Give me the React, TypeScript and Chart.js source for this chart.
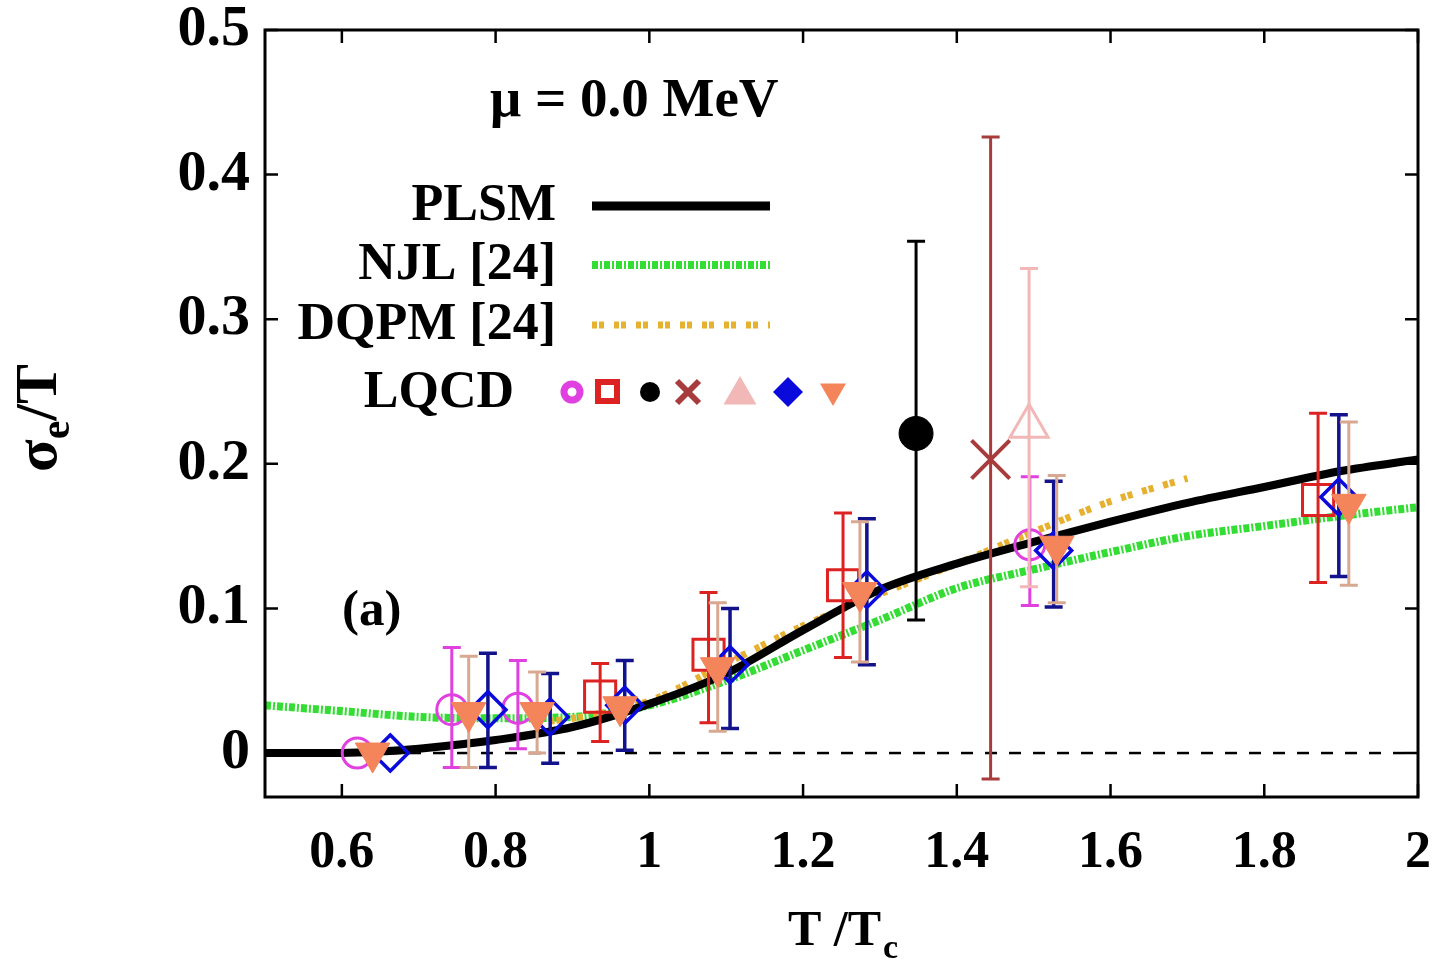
import React, { useEffect, useRef } from 'react';
import { Chart, registerables } from 'chart.js';

Chart.register(...registerables);

// ---------- data ----------
const xTickValues = [0.6, 0.8, 1.0, 1.2, 1.4, 1.6, 1.8, 2.0];
const yTickValues = [0, 0.1, 0.2, 0.3, 0.4, 0.5];

const plsmT = [0.5, 0.6, 0.65, 0.7, 0.8, 0.9, 1.0, 1.1, 1.2, 1.3, 1.4, 1.5, 1.6, 1.7, 1.8, 1.9, 2.0];
const plsmSigma = [0, 0, 0.001, 0.003, 0.009, 0.018, 0.034, 0.055, 0.085, 0.113, 0.131, 0.146, 0.160, 0.173, 0.184, 0.195, 0.203];

const njlT = [0.5, 0.6, 0.7, 0.8, 0.9, 1.0, 1.1, 1.2, 1.3, 1.4, 1.5, 1.6, 1.7, 1.8, 1.9, 2.0];
const njlSigma = [0.033, 0.029, 0.025, 0.024, 0.025, 0.033, 0.050, 0.071, 0.092, 0.114, 0.127, 0.139, 0.150, 0.157, 0.164, 0.170];

const dqpmT = [0.87, 0.9, 1.0, 1.1, 1.2, 1.3, 1.4, 1.5, 1.6, 1.7];
const dqpmSigma = [0.022, 0.024, 0.036, 0.062, 0.088, 0.110, 0.131, 0.153, 0.174, 0.190];

const zeroT = [0.5, 2.0];
const zeroSigma = [0, 0];

// LQCD sets: T, value, lower, upper
const lqcdCircleT = [0.62, 0.743, 0.829, 1.495];
const lqcdCircleV = [0.0, 0.030, 0.031, 0.144];
const lqcdCircleLo = [0.0, -0.010, 0.003, 0.102];
const lqcdCircleHi = [0.0, 0.073, 0.064, 0.191];

const lqcdSquareT = [0.936, 1.077, 1.252, 1.870];
const lqcdSquareV = [0.039, 0.068, 0.116, 0.175];
const lqcdSquareLo = [0.008, 0.021, 0.066, 0.118];
const lqcdSquareHi = [0.062, 0.111, 0.166, 0.235];

const lqcdDotT = [1.347];
const lqcdDotV = [0.221];
const lqcdDotLo = [0.092];
const lqcdDotHi = [0.354];

const lqcdCrossT = [1.444];
const lqcdCrossV = [0.203];
const lqcdCrossLo = [-0.018];
const lqcdCrossHi = [0.426];

const lqcdTriT = [1.494];
const lqcdTriV = [0.226];
const lqcdTriLo = [0.115];
const lqcdTriHi = [0.335];

const lqcdDiamondT = [0.663, 0.790, 0.871, 0.968, 1.105, 1.283, 1.526, 1.897];
const lqcdDiamondV = [0.0, 0.030, 0.025, 0.033, 0.061, 0.113, 0.140, 0.177];
const lqcdDiamondLo = [0.0, -0.010, -0.007, 0.002, 0.017, 0.061, 0.101, 0.122];
const lqcdDiamondHi = [0.0, 0.069, 0.055, 0.064, 0.100, 0.162, 0.188, 0.234];

const lqcdDownT = [0.64, 0.765, 0.854, 0.962, 1.089, 1.274, 1.530, 1.910];
const lqcdDownV = [0.0, 0.028, 0.028, 0.032, 0.059, 0.111, 0.143, 0.172];
const lqcdDownLo = [0.0, -0.010, 0.000, 0.032, 0.015, 0.063, 0.104, 0.116];
const lqcdDownHi = [0.0, 0.067, 0.056, 0.032, 0.104, 0.160, 0.192, 0.229];

const legendLabels = ['PLSM', 'NJL [24]', 'DQPM [24]', 'LQCD'];
const muLabel = 'μ = 0.0 MeV';
const panelLabel = '(a)';

// ---------- styling ----------
const SERIF = "'Liberation Serif', 'Times New Roman', serif";
const C = {
  plsm: '#000000',
  njl: '#33dd33',
  dqpm: '#e6b030',
  circle: '#e040e0',
  square: '#dd2222',
  dot: '#000000',
  cross: '#a83c3c',
  tri: '#f2b8b8',
  diamond: '#0a0adc',
  diamondBar: '#12128c',
  down: '#f4845a',
  downBar: '#d8a890',
};
const NJL_DASH = [6, 2, 2, 2];
const DQPM_DASH = [5, 2, 5, 10];

const pts = (xs: number[], ys: number[]) => xs.map((x, i) => ({ x, y: ys[i] }));
const fmt = (v: number) => String(parseFloat(v.toFixed(1)));

const errorBarPlugin = {
  id: 'errorBars',
  beforeDatasetDraw(chart: any, args: any) {
    const ds: any = chart.data.datasets[args.index];
    if (!ds.errLow) return;
    const { ctx, scales } = chart;
    const x = scales.x, y = scales.y;
    ctx.save();
    ctx.strokeStyle = ds.errColor;
    ctx.lineWidth = ds.errWidth || 3;
    const cap = ds.errCap || 9;
    ds.data.forEach((p: any, i: number) => {
      const lo = ds.errLow[i], hi = ds.errHigh[i];
      if (hi - lo < 1e-6) return;
      const px = x.getPixelForValue(p.x);
      const p1 = y.getPixelForValue(lo);
      const p2 = y.getPixelForValue(hi);
      ctx.beginPath();
      ctx.moveTo(px, p1); ctx.lineTo(px, p2);
      ctx.moveTo(px - cap, p1); ctx.lineTo(px + cap, p1);
      ctx.moveTo(px - cap, p2); ctx.lineTo(px + cap, p2);
      ctx.stroke();
    });
    ctx.restore();
  },
};

function tri(ctx: CanvasRenderingContext2D, x: number, y: number, r: number, down: boolean) {
  const s = down ? -1 : 1;
  ctx.beginPath();
  ctx.moveTo(x, y - s * r);
  ctx.lineTo(x + r * 0.866, y + s * r * 0.5);
  ctx.lineTo(x - r * 0.866, y + s * r * 0.5);
  ctx.closePath();
}

const framePlugin = {
  id: 'frameAndText',
  afterDraw(chart: any) {
    const { ctx, chartArea: a, scales } = chart;
    const x = scales.x, y = scales.y;
    ctx.save();
    // frame
    ctx.strokeStyle = '#000';
    ctx.lineWidth = 3;
    ctx.strokeRect(a.left, a.top, a.right - a.left, a.bottom - a.top);
    // inward ticks
    const tl = 13;
    ctx.lineWidth = 2.5;
    ctx.beginPath();
    xTickValues.forEach((v) => {
      const px = x.getPixelForValue(v);
      ctx.moveTo(px, a.bottom); ctx.lineTo(px, a.bottom - tl);
      ctx.moveTo(px, a.top); ctx.lineTo(px, a.top + tl);
    });
    yTickValues.forEach((v) => {
      const py = y.getPixelForValue(v);
      ctx.moveTo(a.left, py); ctx.lineTo(a.left + tl, py);
      ctx.moveTo(a.right, py); ctx.lineTo(a.right - tl, py);
    });
    ctx.stroke();

    ctx.fillStyle = '#000';
    // x axis title
    ctx.font = `bold 50px ${SERIF}`;
    ctx.textBaseline = 'alphabetic';
    ctx.textAlign = 'left';
    const t1 = 'T /T';
    const w1 = ctx.measureText(t1).width;
    ctx.font = `bold 34px ${SERIF}`;
    const wc = ctx.measureText('c').width;
    const startX = 842 - (w1 + wc) / 2;
    ctx.font = `bold 50px ${SERIF}`;
    ctx.fillText(t1, startX, 945);
    ctx.font = `bold 34px ${SERIF}`;
    ctx.fillText('c', startX + w1 + 2, 958);

    // y title rotated
    ctx.save();
    ctx.translate(56, 418);
    ctx.rotate(-Math.PI / 2);
    ctx.font = `bold 60px ${SERIF}`;
    const ws = ctx.measureText('σ').width;
    ctx.font = `bold 42px ${SERIF}`;
    const we = ctx.measureText('e').width;
    ctx.font = `bold 60px ${SERIF}`;
    const wt = ctx.measureText('/T').width;
    const sx = -(ws + we + wt) / 2;
    ctx.fillText('σ', sx, 0);
    ctx.font = `bold 42px ${SERIF}`;
    ctx.fillText('e', sx + ws, 13);
    ctx.font = `bold 60px ${SERIF}`;
    ctx.fillText('/T', sx + ws + we, 0);
    ctx.restore();

    // mu label and panel label
    ctx.textBaseline = 'middle';
    ctx.textAlign = 'left';
    ctx.font = `bold 55px ${SERIF}`;
    ctx.fillText(muLabel, 490, 102);
    ctx.font = `bold 51px ${SERIF}`;
    ctx.fillText(panelLabel, 342, 612);

    // legend
    ctx.textAlign = 'right';
    ctx.font = `bold 52px ${SERIF}`;
    ctx.fillText(legendLabels[0], 556, 207);
    ctx.fillText(legendLabels[1], 556, 266);
    ctx.fillText(legendLabels[2], 556, 326);
    ctx.fillText(legendLabels[3], 514, 394);

    ctx.lineCap = 'butt';
    ctx.strokeStyle = C.plsm; ctx.lineWidth = 9; ctx.setLineDash([]);
    ctx.beginPath(); ctx.moveTo(592, 206); ctx.lineTo(770, 206); ctx.stroke();
    ctx.strokeStyle = C.njl; ctx.lineWidth = 8; ctx.setLineDash(NJL_DASH);
    ctx.beginPath(); ctx.moveTo(592, 265); ctx.lineTo(770, 265); ctx.stroke();
    ctx.strokeStyle = C.dqpm; ctx.lineWidth = 7; ctx.setLineDash(DQPM_DASH);
    ctx.beginPath(); ctx.moveTo(592, 325); ctx.lineTo(770, 325); ctx.stroke();
    ctx.setLineDash([]);

    const ly = 392;
    // circle
    ctx.strokeStyle = C.circle; ctx.lineWidth = 7;
    ctx.beginPath(); ctx.arc(572, ly, 8, 0, Math.PI * 2); ctx.stroke();
    // square
    ctx.strokeStyle = C.square; ctx.lineWidth = 6;
    ctx.strokeRect(598, ly - 10, 19, 19);
    // dot
    ctx.fillStyle = C.dot;
    ctx.beginPath(); ctx.arc(650, ly, 10, 0, Math.PI * 2); ctx.fill();
    // cross
    ctx.strokeStyle = C.cross; ctx.lineWidth = 6;
    ctx.beginPath();
    ctx.moveTo(677, ly - 11); ctx.lineTo(699, ly + 11);
    ctx.moveTo(699, ly - 11); ctx.lineTo(677, ly + 11);
    ctx.stroke();
    // triangle
    ctx.fillStyle = C.tri;
    tri(ctx, 740, ly + 3, 19, false); ctx.fill();
    // diamond
    ctx.fillStyle = C.diamond;
    ctx.beginPath();
    ctx.moveTo(788, ly - 15); ctx.lineTo(803, ly); ctx.lineTo(788, ly + 15); ctx.lineTo(773, ly);
    ctx.closePath(); ctx.fill();
    // down triangle
    ctx.fillStyle = C.down;
    tri(ctx, 833, ly - 1, 15, true); ctx.fill();

    ctx.restore();
  },
};

export default function App() {
  const ref = useRef<HTMLCanvasElement | null>(null);

  useEffect(() => {
    const canvas = ref.current;
    if (!canvas) return;

    const marker = (
      label: string, xs: number[], ys: number[], lo: number[], hi: number[],
      style: any, radius: number, border: string, fill: string, bw: number,
      errColor: string, errWidth: number, order: number, rotation = 0,
    ): any => ({
      label,
      data: pts(xs, ys),
      showLine: false,
      pointStyle: style,
      pointRadius: radius,
      pointRotation: rotation,
      pointBorderColor: border,
      pointBackgroundColor: fill,
      pointBorderWidth: bw,
      errLow: lo,
      errHigh: hi,
      errColor,
      errWidth,
      errCap: 9,
      order,
      clip: false,
    });

    const chart = new Chart(canvas, {
      type: 'line',
      data: {
        datasets: [
          marker('LQCD circle', lqcdCircleT, lqcdCircleV, lqcdCircleLo, lqcdCircleHi, 'circle', 15, C.circle, 'rgba(0,0,0,0)', 3, C.circle, 3, 7),
          marker('LQCD square', lqcdSquareT, lqcdSquareV, lqcdSquareLo, lqcdSquareHi, 'rect', 22, C.square, 'rgba(0,0,0,0)', 3, C.square, 3, 6),
          marker('LQCD dot', lqcdDotT, lqcdDotV, lqcdDotLo, lqcdDotHi, 'circle', 17, C.dot, C.dot, 1, C.dot, 3, 1),
          marker('LQCD cross', lqcdCrossT, lqcdCrossV, lqcdCrossLo, lqcdCrossHi, 'crossRot', 27, C.cross, C.cross, 4, C.cross, 3, 2),
          marker('LQCD triangle', lqcdTriT, lqcdTriV, lqcdTriLo, lqcdTriHi, 'triangle', 22, C.tri, 'rgba(0,0,0,0)', 3, C.tri, 3, 3),
          marker('LQCD diamond', lqcdDiamondT, lqcdDiamondV, lqcdDiamondLo, lqcdDiamondHi, 'rectRot', 18, C.diamond, 'rgba(0,0,0,0)', 3.5, C.diamondBar, 3.5, 5),
          marker('LQCD down', lqcdDownT, lqcdDownV, lqcdDownLo, lqcdDownHi, 'triangle', 20, C.down, C.down, 1, C.downBar, 3, 4, 180),
          {
            label: 'PLSM', data: pts(plsmT, plsmSigma), borderColor: C.plsm, borderWidth: 8,
            pointRadius: 0, cubicInterpolationMode: 'monotone', order: 10,
          } as any,
          {
            label: 'NJL', data: pts(njlT, njlSigma), borderColor: C.njl, borderWidth: 8,
            borderDash: NJL_DASH, pointRadius: 0, cubicInterpolationMode: 'monotone', order: 12,
          } as any,
          {
            label: 'DQPM', data: pts(dqpmT, dqpmSigma), borderColor: C.dqpm, borderWidth: 7,
            borderDash: DQPM_DASH, pointRadius: 0, cubicInterpolationMode: 'monotone', order: 11,
          } as any,
          {
            label: 'zero', data: pts(zeroT, zeroSigma), borderColor: '#000', borderWidth: 2.5,
            borderDash: [12, 12], pointRadius: 0, order: 13,
          } as any,
        ],
      },
      plugins: [errorBarPlugin, framePlugin],
      options: {
        animation: false,
        responsive: false,
        devicePixelRatio: 1,
        events: [],
        layout: { autoPadding: false, padding: { left: 0, right: 25, top: 30, bottom: 0 } },
        plugins: { legend: { display: false }, tooltip: { enabled: false }, title: { display: false } },
        scales: {
          x: {
            type: 'linear', min: 0.5, max: 2.0,
            grid: { display: false, drawTicks: false },
            border: { display: false },
            ticks: {
              color: '#000', font: { family: SERIF, size: 52, weight: 'bold' }, padding: 25,
              maxRotation: 0, autoSkip: false, callback: (v: any) => fmt(Number(v)),
            },
            afterBuildTicks: (s: any) => { s.ticks = xTickValues.map((v) => ({ value: v })); },
            afterFit: (s: any) => { s.height = 171; s.paddingLeft = 0; s.paddingRight = 0; },
          },
          y: {
            type: 'linear', min: -0.0304, max: 0.5,
            grid: { display: false, drawTicks: false },
            border: { display: false },
            ticks: {
              color: '#000', font: { family: SERIF, size: 58, weight: 'bold' }, padding: 15,
              autoSkip: false, callback: (v: any) => fmt(Number(v)),
            },
            afterBuildTicks: (s: any) => { s.ticks = yTickValues.map((v) => ({ value: v })); },
            afterFit: (s: any) => { s.width = 265; s.paddingTop = 0; s.paddingBottom = 0; },
          },
        },
      } as any,
    });
    return () => chart.destroy();
  }, []);

  return (
    <div style={{ position: 'absolute', left: 0, top: 0, width: 1443, height: 968, background: '#fff' }}>
      <canvas ref={ref} width={1443} height={968} style={{ display: 'block', width: 1443, height: 968 }} />
    </div>
  );
}
